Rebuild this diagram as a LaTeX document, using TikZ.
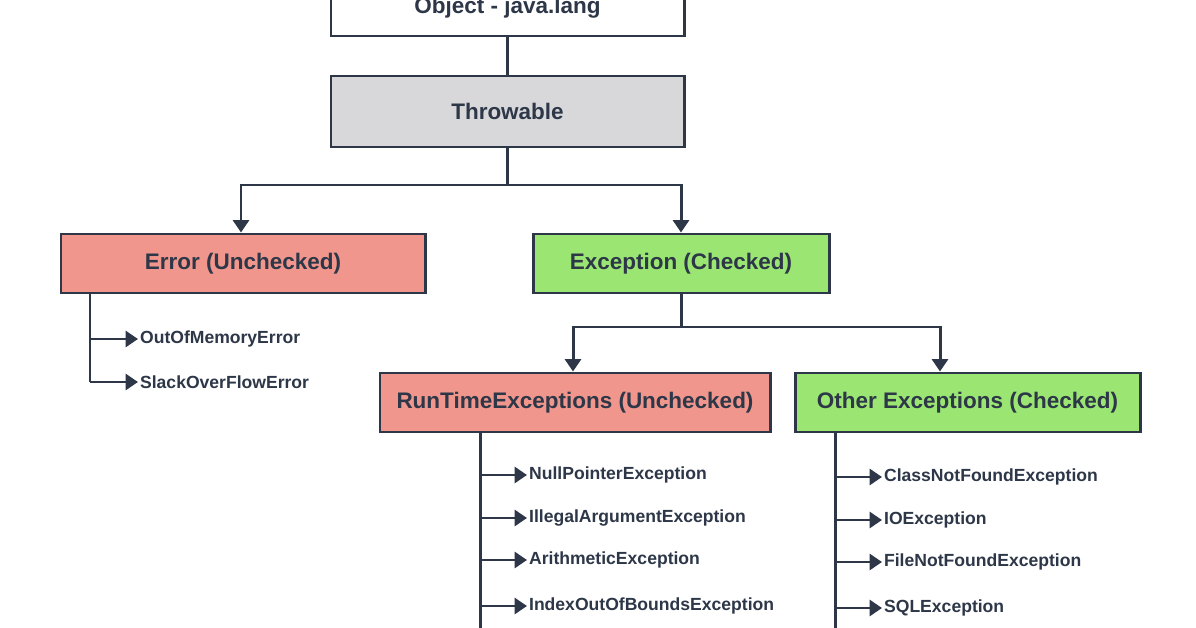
\documentclass[tikz,border=0pt]{standalone}
\usepackage{fontspec}
\setmainfont{Liberation Sans}
\usetikzlibrary{arrows.meta, calc}
\definecolor{myink}{RGB}{45,55,72}
\definecolor{myred}{RGB}{240,150,140}
\definecolor{mygreen}{RGB}{155,230,115}
\definecolor{mygray}{RGB}{216,216,218}
\tikzstyle{box} = [draw=myink, line width=1.7pt, font=\bfseries\fontsize{12.8}{15}\selectfont,
    text=myink, align=center, inner sep=0]
\tikzstyle{leaf} = [anchor=west, font=\bfseries\fontsize{10}{12}\selectfont, text=myink, inner sep=1pt]
\tikzstyle{link} = [draw=myink, line width=1.7pt]
\tikzstyle{arr} = [link, -{Triangle[length=7pt,width=9pt]}]

\begin{document}
\begin{tikzpicture}[x=0.02cm, y=-0.02cm]
\useasboundingbox[fill=white] (0,0) rectangle (1196,628);

    % top boxes
    \node[box, minimum width=353*0.02cm, minimum height=56*0.02cm] (obj) at (507.5,8) {Object - java.lang};
    \node[box, fill=mygray, minimum width=353*0.02cm, minimum height=71*0.02cm] (thr) at (507.5,111.5) {Throwable};
    \node[box, fill=myred, minimum width=364*0.02cm, minimum height=59*0.02cm] (err) at (243,263.5) {Error (Unchecked)};
    \node[box, fill=mygreen, minimum width=296*0.02cm, minimum height=59*0.02cm] (exc) at (681,263.5) {Exception (Checked)};
    \node[box, fill=myred, minimum width=390*0.02cm, minimum height=59*0.02cm] (rte) at (575,402.5) {RunTimeExceptions (Unchecked)};
    \node[box, fill=mygreen, minimum width=345*0.02cm, minimum height=59*0.02cm] (oth) at (967.5,402.5) {Other Exceptions (Checked)};

    % connections
    \draw[link] (obj.south) -- (thr.north);
    \coordinate (t1) at (507.5,185);
    \draw[link] (thr.south) -- (t1);
    \draw[arr] (t1) -| (err.north -| 241,0);
    \draw[arr] (t1) -| (exc.north);
    \coordinate (e1) at (681,327);
    \draw[link] (exc.south) -- (e1);
    \draw[arr] (e1) -| (rte.north -| 573,0);
    \draw[arr] (e1) -| (oth.north -| 940,0);

    % error children
    \node[leaf] (oom) at (138,339) {OutOfMemoryError};
    \node[leaf] (soe) at (138,382) {SlackOverFlowError};
    \draw[link] (err.south -| 90,0) -- (90,382);
    \foreach \n in {oom,soe}
        \draw[arr] (90,0 |- \n.west) -- (\n.west);

    % runtime children
    \node[leaf] (npe) at (527,475) {NullPointerException};
    \node[leaf] (iae) at (527,518) {IllegalArgumentException};
    \node[leaf] (ari) at (527,560) {ArithmeticException};
    \node[leaf] (ioob) at (527,606) {IndexOutOfBoundsException};
    \draw[link] (rte.south -| 480,0) -- (480,640);
    \foreach \n in {npe,iae,ari,ioob}
        \draw[arr] (480,0 |- \n.west) -- (\n.west);

    % other children
    \node[leaf] (cnf) at (882,477) {ClassNotFoundException};
    \node[leaf] (ioe) at (882,520) {IOException};
    \node[leaf] (fnf) at (882,562) {FileNotFoundException};
    \node[leaf] (sql) at (882,608) {SQLException};
    \draw[link] (oth.south -| 835,0) -- (835,640);
    \foreach \n in {cnf,ioe,fnf,sql}
        \draw[arr] (835,0 |- \n.west) -- (\n.west);
\end{tikzpicture}
\end{document}
